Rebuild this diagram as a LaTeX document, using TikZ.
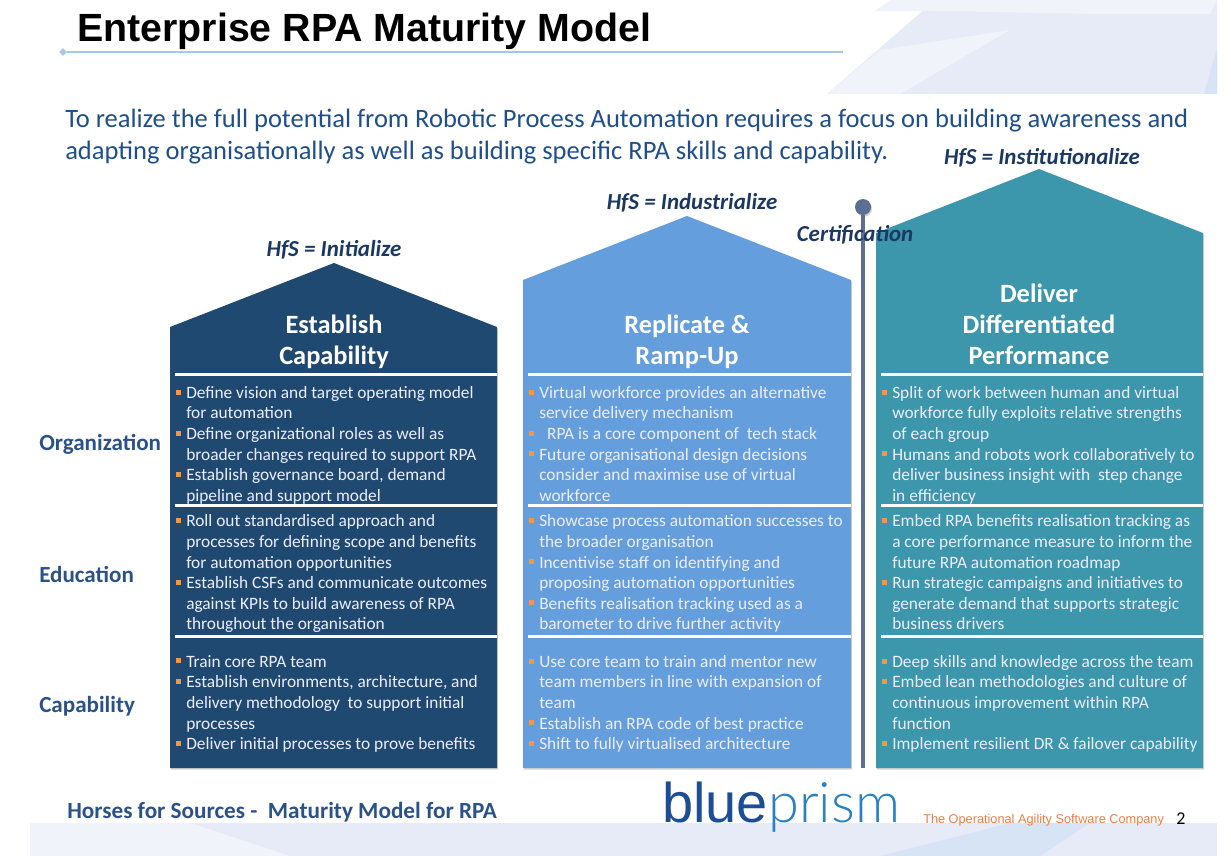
\documentclass[tikz,border=0pt]{standalone}
\usepackage{fontspec}
\setmainfont{Carlito}
\newfontfamily\arialfont{Liberation Sans}
\newfontfamily\thinfont{Lato Light}
\usepackage{tikz}
\usetikzlibrary{shapes.geometric}
\usetikzlibrary{shadows}
\usetikzlibrary{positioning}

\definecolor{navy}{RGB}{31,73,113}
\definecolor{midblue}{RGB}{101,158,221}
\definecolor{teal}{RGB}{60,150,172}
\definecolor{inkblue}{RGB}{30,78,140}
\definecolor{darkink}{RGB}{27,56,100}
\definecolor{sidelabel}{RGB}{42,82,136}
\definecolor{bulletorange}{RGB}{245,150,70}
\definecolor{paleblue}{RGB}{230,235,247}
\definecolor{paleredge}{RGB}{240,243,250}
\definecolor{edgeblue}{RGB}{214,228,245}
\definecolor{rulecolor}{RGB}{166,200,232}
\definecolor{pincolor}{RGB}{92,110,145}
\definecolor{logoblue}{RGB}{28,78,150}
\definecolor{logolight}{RGB}{40,128,200}
\definecolor{tagorange}{RGB}{240,125,65}

\newcommand{\bul}{\leavevmode\llap{\textcolor{bulletorange}{\rule[2.8pt]{3.8pt}{3.8pt}}\hspace{4.2pt}}}

\begin{document}
\begin{tikzpicture}[x=0.75pt,y=-0.75pt,
	house/.style={drop shadow={opacity=.35,shadow xshift=.8pt,shadow yshift=-1.2pt}},
	bandline/.style={white,line width=2.2pt},
	cell/.style={anchor=north west,inner sep=0pt,align=left,text=white!93!blue,
		font=\fontsize{13}{15.45}\selectfont},
	headline/.style={inner sep=0pt,align=center,text=white,
		font=\fontsize{19.8}{23.2}\selectfont\bfseries},
	hfs/.style={inner sep=0pt,text=darkink,font=\fontsize{17.2}{20}\selectfont\bfseries\itshape},
	rowname/.style={anchor=west,inner sep=0pt,text=sidelabel,font=\fontsize{17.3}{20}\selectfont\bfseries}]
	
	% backdrop
	\useasboundingbox (0,0) rectangle (1231,856);
	\fill[paleblue] (827,94) -- (935,0) -- (1217,0) -- (1217,94) -- cycle;
	\fill[paleredge] (827,94) -- (880,50) -- (1010,30) -- (900,94) -- cycle;
	\fill[paleredge] (875,11) -- (935,11) -- (948,0) -- (890,0) -- cycle;
	\fill[paleredge] (935,11) -- (1100,14) -- (1210,14) -- (1217,0) -- (948,0) -- cycle;
	\fill[edgeblue] (1204,94) -- (1217,48) -- (1217,94) -- cycle;
	\fill[paleblue] (30,823) -- (1217,823) -- (1217,856) -- (30,856) -- cycle;
	\fill[paleredge] (30,823) -- (190,823) -- (290,856) -- (30,856) -- cycle;
	\fill[edgeblue] (880,856) -- (1010,823) -- (1090,823) -- (1040,856) -- cycle;
	
	% title
	\node[anchor=west,inner sep=0pt,font=\arialfont\fontsize{29.5}{32}\selectfont\bfseries] (title) at (77,31) {Enterprise RPA Maturity Model};
	\node[diamond,fill=rulecolor,inner sep=0pt,minimum size=6pt] (ruleend) at (63,52) {};
	\coordinate (ruleright) at (843,52);
	\draw[rulecolor,line width=1.8pt] (ruleend) -- (ruleright);
	
	\node[anchor=north west,inner sep=0pt,align=left,text=inkblue,font=\fontsize{19.9}{24}\selectfont] (intro) at (65,109)
	{To realize the full potential from Robotic Process Automation requires a focus on building awareness and\\
	adapting organisationally as well as building specific RPA skills and capability.};
	
	% houses
	\fill[navy,house] (170,327) -- (334,263) -- (497,327) -- (497,768) -- (170,768) -- cycle;
	\fill[midblue,house] (523,280) -- (687,216) -- (851,280) -- (851,768) -- (523,768) -- cycle;
	\fill[teal,house] (876,233) -- (1039,169) -- (1203,233) -- (1203,768) -- (876,768) -- cycle;
	
	\draw[bandline] (175,374.5) -- (497,374.5) (175,505.5) -- (497,505.5) (175,636.5) -- (497,636.5);
	\draw[bandline] (528,374.5) -- (851,374.5) (528,505.5) -- (851,505.5) (528,636.5) -- (851,636.5);
	\draw[bandline] (881,374.5) -- (1203,374.5) (881,505.5) -- (1203,505.5) (881,636.5) -- (1203,636.5);
	
	% certification pin
	\node[circle,fill=pincolor,inner sep=0pt,minimum size=12pt,house] (pinhead) at (863,207) {};
	\coordinate (pinfoot) at (863,768);
	\draw[pincolor,line width=2.6pt] (pinhead) -- (pinfoot);
	\node[hfs] (cert) at (855,235) {Certification};
	
	\node[hfs] (hfsa) at (334,250) {HfS = Initialize};
	\node[hfs] (hfsb) at (692,203) {HfS = Industrialize};
	\node[hfs] (hfsc) at (1042,158) {HfS = Institutionalize};
	
	\node[headline] (heada) at (334,342) {Establish\\Capability};
	\node[headline] (headb) at (687,342) {Replicate \&\\Ramp-Up};
	\node[headline] (headc) at (1039,324) {Deliver\\Differentiated\\Performance};
	
	\node[rowname] (org) at (39,444) {Organization};
	\node[rowname] (edu) at (39,574) {Education};
	\node[rowname] (cap) at (39,706) {Capability};
	
	% first column
	\node[cell] (a1) at (186,386) {\bul Define vision and target operating model\\
	for automation\\
	\bul Define organizational roles as well as\\
	broader changes required to support RPA\\
	\bul Establish governance board, demand\\
	pipeline and support model};
	\node[cell] (a2) at (186,514.5) {\bul Roll out standardised approach and\\
	processes for defining scope and benefits\\
	for automation opportunities\\
	\bul Establish CSFs and communicate outcomes\\
	against KPIs to build awareness of RPA\\
	throughout the organisation};
	\node[cell] (a3) at (186,655) {\bul Train core RPA team\\
	\bul Establish environments, architecture, and\\
	delivery methodology\ \ to support initial\\
	processes\\
	\bul Deliver initial processes to prove benefits};
	
	% second column
	\node[cell] (b1) at (539,386) {\bul Virtual workforce provides an alternative\\
	service delivery mechanism\\
	\bul\ \ RPA is a core component of\ \ tech stack\\
	\bul Future organisational design decisions\\
	consider and maximise use of virtual\\
	workforce};
	\node[cell] (b2) at (539,514.5) {\bul Showcase process automation successes to\\
	the broader organisation\\
	\bul Incentivise staff on identifying and\\
	proposing automation opportunities\\
	\bul Benefits realisation tracking used as a\\
	barometer to drive further activity};
	\node[cell] (b3) at (539,655) {\bul Use core team to train and mentor new\\
	team members in line with expansion of\\
	team\\
	\bul Establish an RPA code of best practice\\
	\bul Shift to fully virtualised architecture};
	
	% third column
	\node[cell] (c1) at (892,386) {\bul Split of work between human and virtual\\
	workforce fully exploits relative strengths\\
	of each group\\
	\bul Humans and robots work collaboratively to\\
	deliver business insight with\ \ step change\\
	in efficiency};
	\node[cell] (c2) at (892,514.5) {\bul Embed RPA benefits realisation tracking as\\
	a core performance measure to inform the\\
	future RPA automation roadmap\\
	\bul Run strategic campaigns and initiatives to\\
	generate demand that supports strategic\\
	business drivers};
	\node[cell] (c3) at (892,655) {\bul Deep skills and knowledge across the team\\
	\bul Embed lean methodologies and culture of\\
	continuous improvement within RPA\\
	function\\
	\bul Implement resilient DR \& failover capability};
	
	% footer
	\node[anchor=west,inner sep=0pt,text=sidelabel,font=\fontsize{17.4}{20}\selectfont\bfseries] (foot) at (67,812) {Horses for Sources -\ \ Maturity Model for RPA};
	\node[anchor=base west,inner sep=0pt,font=\arialfont\fontsize{42}{48}\selectfont] (logo) at (662,822) {\textcolor{logoblue}{blue}\textcolor{logolight}{\thinfont prism}};
	\node[anchor=base west,inner sep=0pt,text=tagorange,font=\arialfont\fontsize{9.55}{11}\selectfont] (tag) at (923,823) {The Operational Agility Software Company};
	\node[anchor=base west,inner sep=0pt,font=\fontsize{13.5}{14}\selectfont] (pageno) at (1176,824) {2};
\end{tikzpicture}
\end{document}
